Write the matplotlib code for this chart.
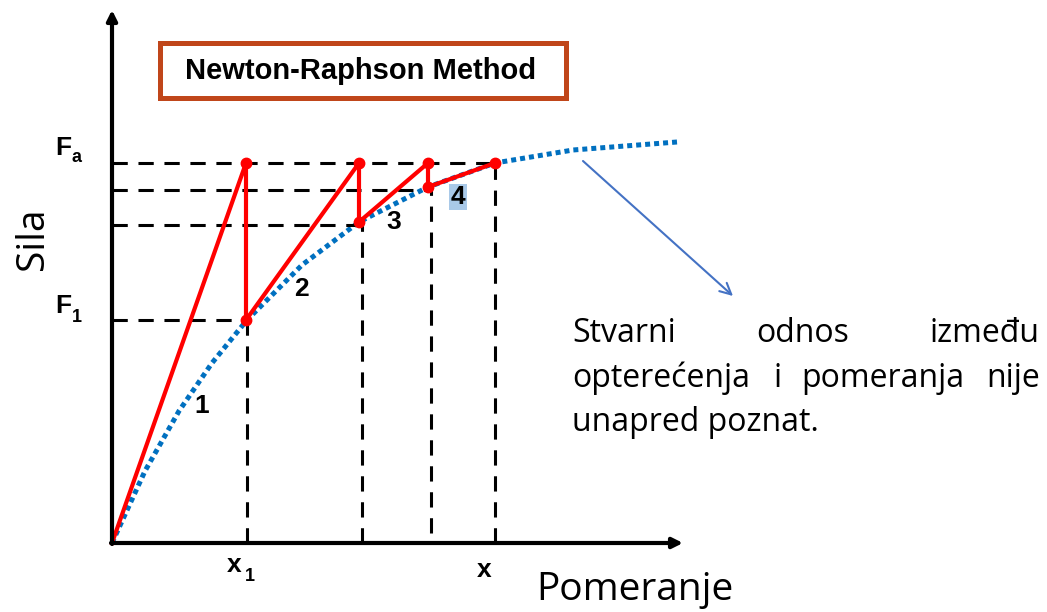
import matplotlib
matplotlib.use("Agg")
import matplotlib.pyplot as plt
from matplotlib.patches import Rectangle

# displacement / force (origin at the axes corner)
curve_x = [0, 33, 67, 100, 135, 190, 247, 316, 383, 461, 565]
curve_f = [0, 72, 132, 180, 223, 278, 321, 356, 380, 393, 401]

# Newton-Raphson iterations (tangent steps)
iter_x = [0, 134, 134, 247, 247, 316, 316, 383]
iter_f = [0, 380, 223, 380, 321, 380, 356, 380]

# dashed guide lines: level, x where it ends, bottom of vertical
guide_f = [223, 318, 353, 380]
guide_x = [135, 250, 319, 383]
guide_bottom = [0, 0, 10, 0]

step_labels = ["1", "2", "3", "4"]
step_pos = [(90, 137), (189, 254), (282, 321), (346, 346)]

bold = dict(family="Liberation Sans", weight="bold", color="black")
body = dict(family="Open Sans", color="black")

fig = plt.figure(figsize=(10.47, 6.12), dpi=100)
ax = fig.add_axes([0, 0, 1, 1])
ax.set_xlim(-112, 935)
ax.set_ylim(-69, 543)
ax.axis("off")

# true curve (unknown)
ax.plot(curve_x, curve_f, color="#0070C0", lw=3.6, dashes=(1, 0.8),
        dash_capstyle="butt", zorder=1)

# dashed guides
for f, x, b in zip(guide_f, guide_x, guide_bottom):
    ax.plot([0, x], [f, f], color="black", lw=2.2, dashes=(5, 3.5), zorder=2)
    ax.plot([x, x], [b, f], color="black", lw=2.2, dashes=(5, 3.5), zorder=2)

# iterations
ax.plot(iter_x, iter_f, color="#FF0000", lw=3, marker="o", ms=7.5,
        markevery=slice(1, None), zorder=3)

# axes with arrows
ax.annotate("", xy=(0, 533), xytext=(0, -1),
            arrowprops=dict(arrowstyle="-|>,head_length=0.6,head_width=0.3",
                            lw=3, color="black", shrinkA=0, shrinkB=0))
ax.annotate("", xy=(571, 0), xytext=(-1, 0),
            arrowprops=dict(arrowstyle="-|>,head_length=0.6,head_width=0.3",
                            lw=3, color="black", shrinkA=0, shrinkB=0))

# tick labels
ax.text(-57, 388, "F", fontsize=19, ha="left", va="baseline", **bold)
ax.text(-40, 381, "a", fontsize=13, ha="left", va="baseline", **bold)
ax.text(-57, 230, "F", fontsize=19, ha="left", va="baseline", **bold)
ax.text(-40, 221, "1", fontsize=13, ha="left", va="baseline", **bold)
ax.text(115, -29, "x", fontsize=19, ha="left", va="baseline", **bold)
ax.text(133, -38, "1", fontsize=13, ha="left", va="baseline", **bold)
ax.text(365, -34, "x", fontsize=19, ha="left", va="baseline", **bold)

for lab, (x, y) in zip(step_labels, step_pos):
    if lab == "4":
        ax.text(x, y, lab, fontsize=19, ha="center", va="center",
                bbox=dict(boxstyle="square,pad=0.05", fc="#A9C9E8", ec="none"), **bold)
    else:
        ax.text(x, y, lab, fontsize=19, ha="center", va="center", **bold)

# title box
ax.add_patch(Rectangle((47.5, 445.5), 406, 55, fill=False, ec="#C0461A", lw=3.6))
ax.text(249, 472, "Newton-Raphson Method", fontsize=21, ha="center", va="center", **bold)

# axis titles
ax.text(424, -57, "Pomeranje", fontsize=28, ha="left", va="baseline", **body)
ax.text(-79, 304, "Sila", fontsize=28, rotation=90, ha="center", va="center", **body)

# note and arrow
ax.annotate("", xy=(621, 247), xytext=(471, 382),
            arrowprops=dict(arrowstyle="->,head_length=0.8,head_width=0.4",
                            lw=1.5, color="#4472C4", shrinkA=0, shrinkB=0))
ax.text(460, 201, "Stvarni", fontsize=23, ha="left", va="baseline", **body)
ax.text(691, 201, "odnos", fontsize=23, ha="center", va="baseline", **body)
ax.text(928, 201, "između", fontsize=23, ha="right", va="baseline", **body)
ax.text(460, 156, "opterećenja", fontsize=23, ha="left", va="baseline", **body)
ax.text(666, 156, "i", fontsize=23, ha="center", va="baseline", **body)
ax.text(771, 156, "pomeranja", fontsize=23, ha="center", va="baseline", **body)
ax.text(928, 156, "nije", fontsize=23, ha="right", va="baseline", **body)
ax.text(460, 112, "unapred poznat.", fontsize=23, ha="left", va="baseline", **body)

fig.savefig("out.png", dpi=100)
